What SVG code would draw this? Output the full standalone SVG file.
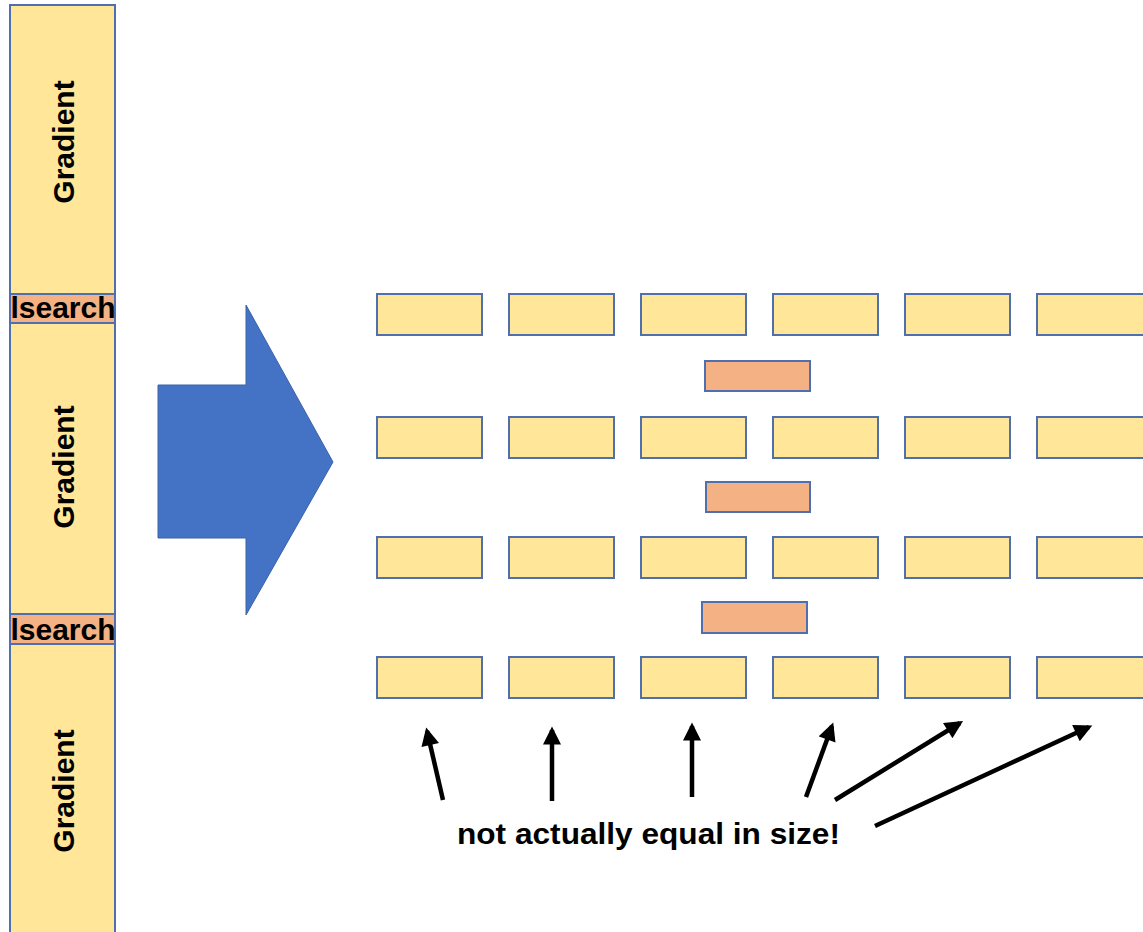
<svg xmlns="http://www.w3.org/2000/svg" width="1143" height="932" viewBox="0 0 1143 932">
  <defs>
    <style>
      .grad { fill: #FFE699; stroke: #4F6FAF; stroke-width: 2; }
      .ls { fill: #F4B183; stroke: #4F6FAF; stroke-width: 2; }
      .lbl { font-family: "Liberation Sans", Arial, sans-serif; font-weight: bold; fill: #000; }
      .conn { stroke: #000; stroke-width: 4.5; fill: none; marker-end: url(#head); }
    </style>
    <marker id="head" viewBox="0 0 10 10" refX="8" refY="5" markerWidth="4.4" markerHeight="4" orient="auto" markerUnits="strokeWidth">
      <path d="M0,0 L10,5 L0,10 Z" fill="#000"/>
    </marker>
  </defs>
  <rect width="1143" height="932" fill="#fff"/>

  <!-- left: single-process stack -->
  <g id="stack-gradient-1">
    <rect class="grad" x="10" y="5" width="105" height="289"/>
    <text class="lbl" font-size="30" text-anchor="middle" transform="translate(74,142) rotate(-90)">Gradient</text>
  </g>
  <g id="stack-lsearch-1">
    <rect class="ls" x="10" y="294" width="105" height="29"/>
    <text class="lbl" font-size="30" text-anchor="middle" x="63" y="318" textLength="105" lengthAdjust="spacingAndGlyphs">lsearch</text>
  </g>
  <g id="stack-gradient-2">
    <rect class="grad" x="10" y="323" width="105" height="291"/>
    <text class="lbl" font-size="30" text-anchor="middle" transform="translate(74,467) rotate(-90)">Gradient</text>
  </g>
  <g id="stack-lsearch-2">
    <rect class="ls" x="10" y="614" width="105" height="30"/>
    <text class="lbl" font-size="30" text-anchor="middle" x="63" y="640" textLength="105" lengthAdjust="spacingAndGlyphs">lsearch</text>
  </g>
  <g id="stack-gradient-3">
    <rect class="grad" x="10" y="644" width="105" height="296"/>
    <text class="lbl" font-size="30" text-anchor="middle" transform="translate(74,791) rotate(-90)">Gradient</text>
  </g>

  <!-- block arrow -->
  <g id="block-arrow">
    <path d="M158,385 L246,385 L246,305 L333,462 L246,615 L246,538 L158,538 Z" fill="#4472C4" stroke="#3A62A8" stroke-width="1"/>
  </g>

  <!-- right: parallel workers -->
  <g id="row-1">
    <rect class="grad" x="377" y="294" width="105" height="41"/>
    <rect class="grad" x="509" y="294" width="105" height="41"/>
    <rect class="grad" x="641" y="294" width="105" height="41"/>
    <rect class="grad" x="773" y="294" width="105" height="41"/>
    <rect class="grad" x="905" y="294" width="105" height="41"/>
    <rect class="grad" x="1037" y="294" width="108" height="41"/>
  </g>
  <g id="sync-1">
    <rect class="ls" x="705" y="361" width="105" height="30"/>
  </g>
  <g id="row-2">
    <rect class="grad" x="377" y="417" width="105" height="41"/>
    <rect class="grad" x="509" y="417" width="105" height="41"/>
    <rect class="grad" x="641" y="417" width="105" height="41"/>
    <rect class="grad" x="773" y="417" width="105" height="41"/>
    <rect class="grad" x="905" y="417" width="105" height="41"/>
    <rect class="grad" x="1037" y="417" width="108" height="41"/>
  </g>
  <g id="sync-2">
    <rect class="ls" x="706" y="482" width="104" height="30"/>
  </g>
  <g id="row-3">
    <rect class="grad" x="377" y="537" width="105" height="41"/>
    <rect class="grad" x="509" y="537" width="105" height="41"/>
    <rect class="grad" x="641" y="537" width="105" height="41"/>
    <rect class="grad" x="773" y="537" width="105" height="41"/>
    <rect class="grad" x="905" y="537" width="105" height="41"/>
    <rect class="grad" x="1037" y="537" width="108" height="41"/>
  </g>
  <g id="sync-3">
    <rect class="ls" x="702" y="602" width="105" height="31"/>
  </g>
  <g id="row-4">
    <rect class="grad" x="377" y="657" width="105" height="41"/>
    <rect class="grad" x="509" y="657" width="105" height="41"/>
    <rect class="grad" x="641" y="657" width="105" height="41"/>
    <rect class="grad" x="773" y="657" width="105" height="41"/>
    <rect class="grad" x="905" y="657" width="105" height="41"/>
    <rect class="grad" x="1037" y="657" width="108" height="41"/>
  </g>

  <g id="note">
    <text class="lbl" font-size="29" x="457" y="844" textLength="383" lengthAdjust="spacingAndGlyphs">not actually equal in size!</text>
  </g>

  <g id="connectors">
    <line class="conn" x1="443" y1="800" x2="427" y2="731"/>
    <line class="conn" x1="552" y1="801" x2="552" y2="730"/>
    <line class="conn" x1="692" y1="797" x2="692" y2="726"/>
    <line class="conn" x1="806" y1="797" x2="832" y2="726"/>
    <line class="conn" x1="835" y1="800" x2="960" y2="723"/>
    <line class="conn" x1="875" y1="826" x2="1089" y2="727"/>
  </g>
</svg>
